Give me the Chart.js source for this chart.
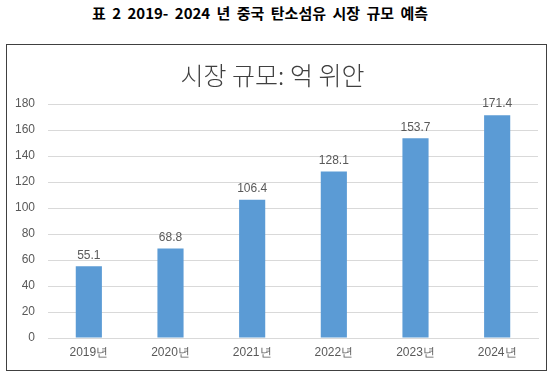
<!DOCTYPE html>
<html>
<head>
<meta charset="utf-8">
<script src="https://cdn.jsdelivr.net/npm/chart.js@4/dist/chart.umd.min.js"></script>
<style>
  html, body { margin: 0; padding: 0; background: #fff; width: 559px; height: 378px; overflow: hidden; }
  #hdr { position: absolute; left: 0; width: 520px; top: 2px; text-align: center; font: bold 15px "Noto Sans CJK KR", sans-serif; color: #000; word-spacing: 3px; }
  #box { position: absolute; left: 6px; top: 44px; width: 539px; height: 325px; border: 1px solid #404040; }
  canvas { display: block; }
</style>
</head>
<body>
<div id="hdr">표 2 2019- 2024 년 중국 탄소섬유 시장 규모 예측</div>
<div id="box"><canvas id="c" width="539" height="325"></canvas></div>
<script>
const categories = ["2019년", "2020년", "2021년", "2022년", "2023년", "2024년"];
const marketSize = [55.1, 68.8, 106.4, 128.1, 153.7, 171.4];
const chartTitle = "시장 규모: 억 위안";
const yMin = 0, yMax = 180, yStep = 20;

const valueLabels = {
  id: 'valueLabels',
  afterDatasetsDraw(chart) {
    const ctx = chart.ctx;
    ctx.save();
    ctx.font = '12px "Liberation Sans", Arial, sans-serif';
    ctx.fillStyle = '#595959';
    ctx.textAlign = 'center';
    ctx.textBaseline = 'bottom';
    chart.getDatasetMeta(0).data.forEach((bar, i) => {
      ctx.fillText(marketSize[i].toFixed(1), bar.x, bar.y - 5);
    });
    ctx.restore();
  }
};

new Chart(document.getElementById('c'), {
  type: 'bar',
  data: {
    labels: categories,
    datasets: [{
      data: marketSize,
      backgroundColor: '#5b9bd5',
      borderWidth: 0,
      barPercentage: 0.4,
      categoryPercentage: 0.8
    }]
  },
  options: {
    responsive: false,
    animation: false,
    devicePixelRatio: 1,
    layout: { padding: { left: 0, right: 8, top: 0, bottom: 8 } },
    plugins: {
      legend: { display: false },
      tooltip: { enabled: false },
      title: {
        display: true,
        text: chartTitle,
        color: '#404040',
        font: { family: '"Noto Sans CJK KR", sans-serif', size: 25, weight: 300 },
        padding: { top: 15, bottom: 14 }
      }
    },
    scales: {
      x: {
        grid: { display: false, drawTicks: false },
        border: { display: true, color: '#d9d9d9', width: 1 },
        ticks: { color: '#595959', font: { family: '"Liberation Sans", Arial, sans-serif', size: 12 }, padding: 7 },
        afterFit(s) { s.height = 24; }
      },
      y: {
        min: yMin, max: yMax,
        ticks: { stepSize: yStep, color: '#595959', font: { family: '"Liberation Sans", Arial, sans-serif', size: 12 }, padding: 13 },
        grid: { color: '#d9d9d9', lineWidth: 1, drawTicks: false },
        border: { display: false },
        afterFit(s) { s.width = 41; }
      }
    }
  },
  plugins: [valueLabels]
});
</script>
</body>
</html>
